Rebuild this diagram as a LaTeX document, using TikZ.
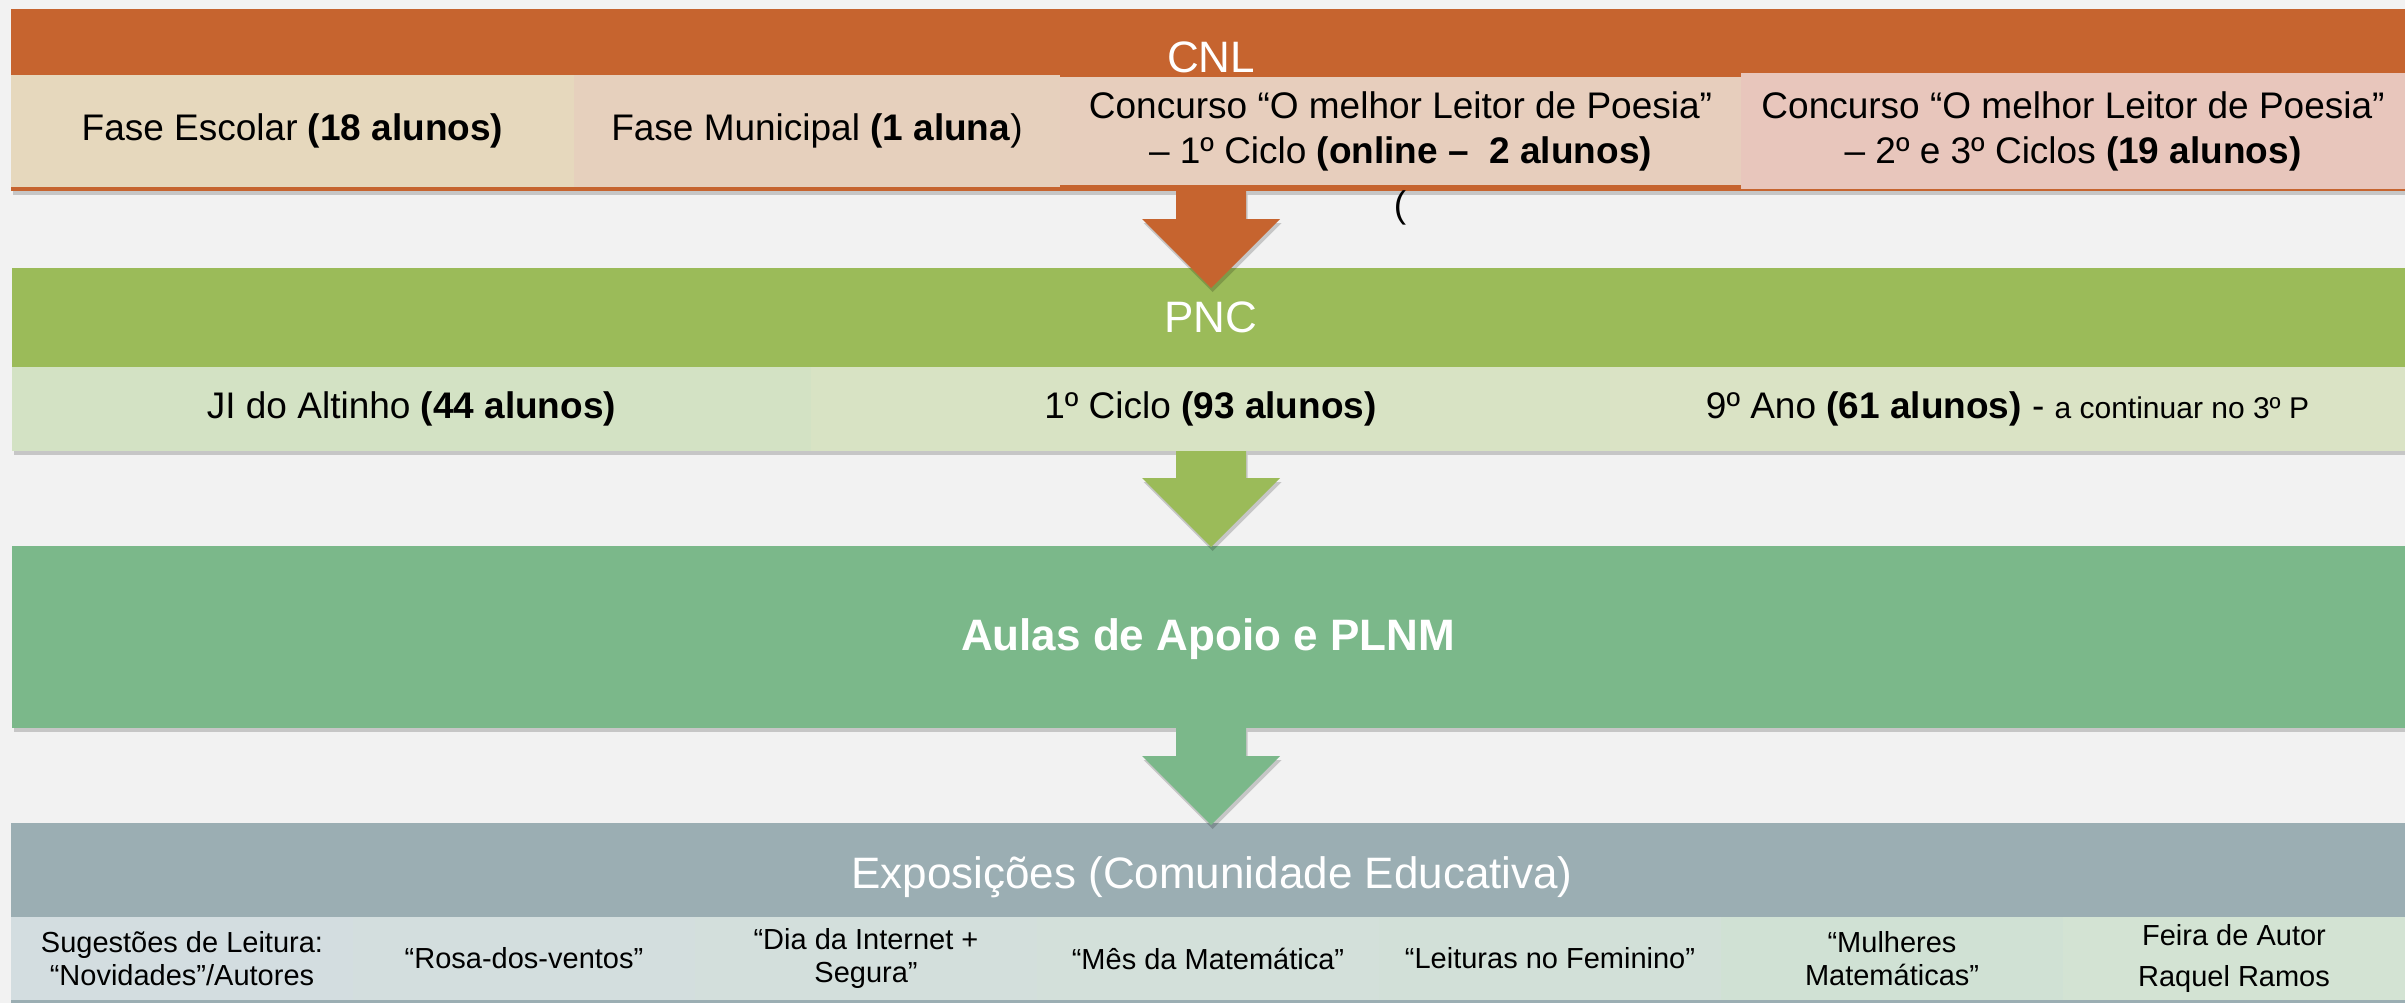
\documentclass[tikz,border=0pt]{standalone}
\usepackage{fontspec}
\setmainfont{Liberation Sans}
\usetikzlibrary{shadows,calc}
\definecolor{bg}{HTML}{F2F2F2}
\definecolor{orangeband}{HTML}{C6642F}
\definecolor{feC}{HTML}{E6D8BD}
\definecolor{fmC}{HTML}{E6D0BD}
\definecolor{cAC}{HTML}{E7CEBD}
\definecolor{cBC}{HTML}{E8C6BC}
\definecolor{greenband}{HTML}{9BBB59}
\definecolor{gAC}{HTML}{D3E2C4}
\definecolor{gBC}{HTML}{D8E3C4}
\definecolor{gCC}{HTML}{DAE3C5}
\definecolor{tealband}{HTML}{7BB88A}
\definecolor{greyband}{HTML}{9BAEB3}
\definecolor{eAC}{HTML}{D3DDE0}
\definecolor{eBC}{HTML}{D3DEDE}
\definecolor{eCC}{HTML}{D3DFDC}
\definecolor{eDC}{HTML}{D3E0DA}
\definecolor{eEC}{HTML}{D2E0D8}
\definecolor{eFC}{HTML}{D0E1D4}
\definecolor{eGC}{HTML}{D3E3D3}
\newcommand\hdrfnt{\fontsize{44}{52}\selectfont}
\newcommand\subfnt{\fontsize{37}{45}\selectfont}
\newcommand\botfnt{\fontsize{29}{33}\selectfont}
\newcommand\blockarrow[3]{\fill[#1, shadowed] let \p1=(#2), \p2=(#3) in
  (\x1-35pt,\y1) -- (\x1+35pt,\y1) -- (\x1+35pt,\y2+69pt) -- (\x1+69pt,\y2+69pt)
  -- (\x2,\y2) -- (\x1-69pt,\y2+69pt) -- (\x1-35pt,\y2+69pt) -- cycle;}
\begin{document}
\begin{tikzpicture}[x=1pt,y=-1pt,
  shadowed/.style={drop shadow={shadow xshift=1.5pt,shadow yshift=-4pt,opacity=0.18,fill=black}},
  band/.style={anchor=north west, inner sep=0pt, outer sep=0pt, shadowed},
  cell/.style={anchor=north west, inner sep=0pt, outer sep=0pt, align=center, text=black, font=\subfnt},
  bcell/.style={cell, font=\botfnt, minimum width=342, minimum height=83},
  hdr/.style={anchor=base, inner sep=0pt, text=white, font=\hdrfnt}]
\fill[bg] (0,0) rectangle (2405,1003);
% bands
\node[band, fill=orangeband, minimum width=2394, minimum height=182] (cnlband) at (11,9) {};
\node[band, fill=greenband, minimum width=2393, minimum height=183] (pncband) at (12,268) {};
\node[band, fill=tealband, minimum width=2393, minimum height=182] (aulasband) at (12,546) {};
\node[band, fill=greyband, minimum width=2394, minimum height=180] (expband) at (11,823) {};
% CNL row
\node[cell, fill=feC, minimum width=563, minimum height=112] (fe) at (11,75) {Fase Escolar \textbf{(18 alunos)}};
\node[cell, fill=fmC, minimum width=486, minimum height=112] (fm) at (574,75) {Fase Municipal \textbf{(1 aluna})};
\node[cell, fill=cAC, minimum width=681, minimum height=108] (ca) at (1060,77) {Concurso “O melhor Leitor de Poesia”\\– 1º Ciclo \textbf{(online –\ \ 2 alunos)}};
\node[cell, fill=cBC, minimum width=664, minimum height=116] (cb) at (1741,73) {Concurso “O melhor Leitor de Poesia”\\– 2º e 3º Ciclos \textbf{(19 alunos)}};
% PNC row
\node[cell, fill=gAC, minimum width=799, minimum height=84] (ji) at (12,367) {JI do Altinho \textbf{(44 alunos)}};
\node[cell, fill=gBC, minimum width=799, minimum height=84] (ciclo) at (811,367) {1º Ciclo \textbf{(93 alunos)}};
\node[cell, fill=gCC, minimum width=795, minimum height=84] (ano) at (1610,367) {9º Ano \textbf{(61 alunos)} - {\fontsize{30}{36}\selectfont a continuar no 3º P}};
% Exposicoes row
\node[bcell, fill=eAC] (e1) at (11,917) {Sugestões de Leitura:\\“Novidades”/Autores};
\node[bcell, fill=eBC] (e2) at (353,917) {“Rosa-dos-ventos”};
\node[bcell, fill=eCC] (e3) at (695,917) {“Dia da Internet +\\Segura”};
\node[bcell, fill=eDC] (e4) at (1037,917) {“Mês da Matemática”};
\node[bcell, fill=eEC] (e5) at (1379,917) {“Leituras no Feminino”};
\node[bcell, fill=eFC] (e6) at (1721,917) {“Mulheres\\Matemáticas”};
\node[bcell, fill=eGC, minimum width=342] (e7) at (2063,917) {Feira de Autor\\[8pt]Raquel Ramos};
% headers
\node[hdr] (cnl) at (1211,73) {CNL};
\node[hdr] (pnc) at (1211,332) {PNC};
\node[hdr, font=\hdrfnt\bfseries] (aulas) at (1208,650) {Aulas de Apoio e PLNM};
\node[hdr] (exp) at (1212,888) {Exposições (Comunidade Educativa)};
\node[anchor=base, inner sep=0pt, font=\subfnt] (paren) at (1400,217) {(};
% arrows
\coordinate (a1s) at (cnlband.south -| cnl);
\coordinate (a1e) at ($(pncband.north -| cnl)+(0,20)$);
\coordinate (a2s) at (pncband.south -| cnl);
\coordinate (a2e) at ($(aulasband.north -| cnl)+(0,1)$);
\coordinate (a3s) at (aulasband.south -| cnl);
\coordinate (a3e) at ($(expband.north -| cnl)+(0,2)$);
\blockarrow{orangeband}{a1s}{a1e}
\blockarrow{greenband}{a2s}{a2e}
\blockarrow{tealband}{a3s}{a3e}
\end{tikzpicture}
\end{document}
